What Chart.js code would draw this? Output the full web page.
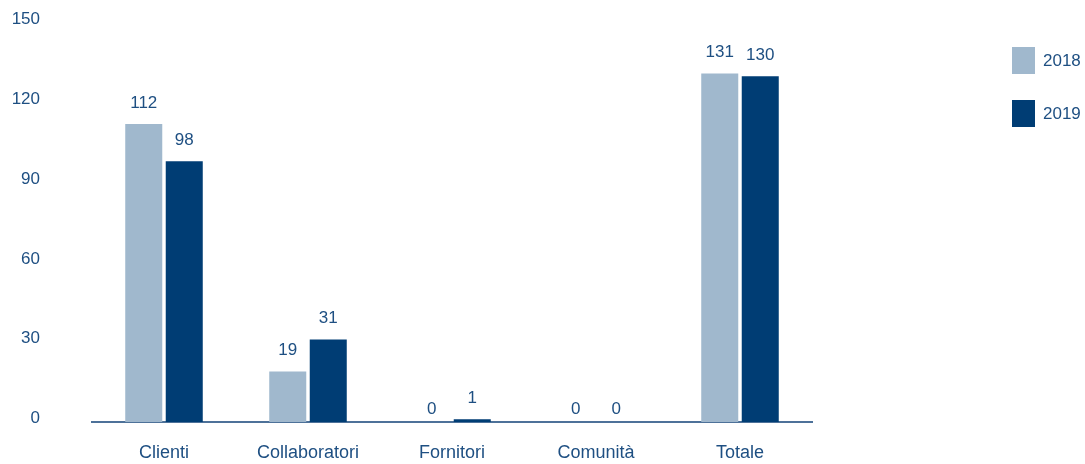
<!DOCTYPE html>
<html>
<head>
<meta charset="utf-8">
<script src="https://cdn.jsdelivr.net/npm/chart.js@4"></script>
<style>
html,body{margin:0;padding:0;background:#fff;}
#wrap{position:relative;width:1085px;height:464px;}
</style>
</head>
<body>
<div id="wrap"><canvas id="c" width="1085" height="464"></canvas></div>
<script>
const categories = ["Clienti", "Collaboratori", "Fornitori", "Comunità", "Totale"];
const seriesNames = ["2018", "2019"];
const values2018 = [112, 19, 0, 0, 131];
const values2019 = [98, 31, 1, 0, 130];
const yTicks = [0, 30, 60, 90, 120, 150];

const colors = ["#a0b8cd", "#003d74"];
const textColor = "#1e4f82";
const fontFamily = "'Liberation Sans', Arial, sans-serif";

const valueLabels = {
  id: "valueLabels",
  afterDatasetsDraw(chart) {
    const ctx = chart.ctx;
    ctx.save();
    ctx.font = "17px " + fontFamily;
    ctx.fillStyle = textColor;
    ctx.textAlign = "center";
    ctx.textBaseline = "middle";
    chart.data.datasets.forEach((ds, i) => {
      const meta = chart.getDatasetMeta(i);
      meta.data.forEach((bar, j) => {
        const v = ds.data[j];
        const off = v === 0 ? 13 : 21;
        ctx.fillText(String(v), bar.x, bar.y - off);
      });
    });
    ctx.restore();
  }
};

const sideLegend = {
  id: "sideLegend",
  afterDraw(chart) {
    const ctx = chart.ctx;
    ctx.save();
    ctx.font = "17px " + fontFamily;
    ctx.textAlign = "left";
    ctx.textBaseline = "middle";
    chart.data.datasets.forEach((ds, i) => {
      const y = 47 + i * 53;
      ctx.fillStyle = ds.backgroundColor;
      ctx.fillRect(1012, y, 23, 27);
      ctx.fillStyle = textColor;
      ctx.fillText(ds.label, 1043, y + 14);
    });
    ctx.restore();
  }
};

new Chart(document.getElementById("c"), {
  type: "bar",
  data: {
    labels: categories,
    datasets: [
      { label: seriesNames[0], data: values2018, backgroundColor: colors[0] },
      { label: seriesNames[1], data: values2019, backgroundColor: colors[1] }
    ]
  },
  options: {
    responsive: false,
    animation: false,
    devicePixelRatio: 1,
    layout: { padding: { top: 23, right: 273, bottom: 0, left: 0 } },
    datasets: { bar: { categoryPercentage: 0.5625, barPercentage: 0.914 } },
    plugins: { legend: { display: false }, tooltip: { enabled: false } },
    scales: {
      x: {
        afterFit(scale) { scale.height = 42; },
        grid: { display: false, drawTicks: false },
        border: { display: true, color: "#4d7199", width: 2 },
        ticks: { color: textColor, font: { family: fontFamily, size: 18 }, padding: 20, maxRotation: 0, minRotation: 0, autoSkip: false }
      },
      y: {
        min: 0, max: 150,
        afterFit(scale) { scale.width = 92; },
        afterBuildTicks(scale) { scale.ticks = yTicks.map(v => ({ value: v })); },
        grid: { display: false, drawTicks: true, tickLength: 50 },
        border: { display: false },
        ticks: { color: textColor, font: { family: fontFamily, size: 17 }, padding: 2, labelOffset: -3.5 }
      }
    }
  },
  plugins: [valueLabels, sideLegend]
});
</script>
</body>
</html>
